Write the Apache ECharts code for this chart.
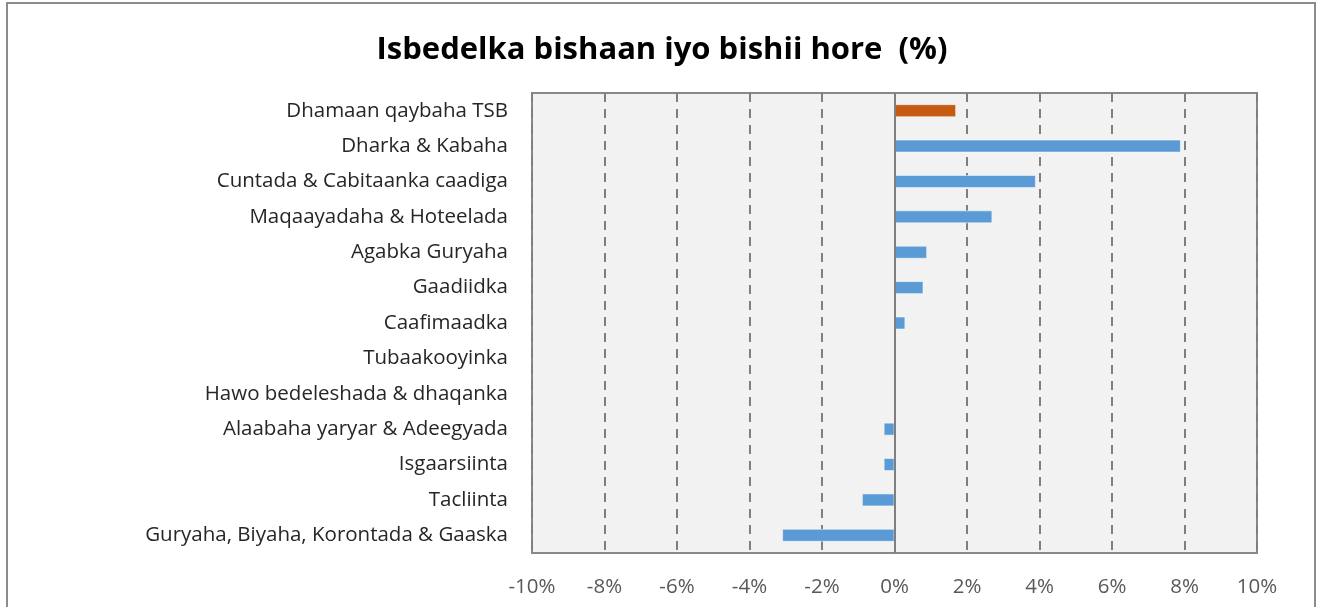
<!DOCTYPE html>
<html>
<head>
<meta charset="utf-8">
<script src="https://cdn.jsdelivr.net/npm/echarts@6/dist/echarts.min.js"></script>
<style>html,body{margin:0;padding:0;background:#fff;}#c{width:1324px;height:607px;}</style>
</head>
<body>
<div id="c"></div>
<script>
const categories = [
  "Dhamaan qaybaha TSB",
  "Dharka & Kabaha",
  "Cuntada & Cabitaanka caadiga",
  "Maqaayadaha & Hoteelada",
  "Agabka Guryaha",
  "Gaadiidka",
  "Caafimaadka",
  "Tubaakooyinka",
  "Hawo bedeleshada & dhaqanka",
  "Alaabaha yaryar & Adeegyada",
  "Isgaarsiinta",
  "Tacliinta",
  "Guryaha, Biyaha, Korontada & Gaaska"
];
const values = [1.7, 7.9, 3.9, 2.7, 0.9, 0.8, 0.3, 0, 0, -0.3, -0.3, -0.9, -3.1];
const barColors = ["#c55a11","#5b9bd5","#5b9bd5","#5b9bd5","#5b9bd5","#5b9bd5","#5b9bd5","#5b9bd5","#5b9bd5","#5b9bd5","#5b9bd5","#5b9bd5","#5b9bd5"];
const titleText = "Isbedelka bishaan iyo bishii hore  (%)";

const chart = echarts.init(document.getElementById('c'), null, {renderer:'canvas'});
chart.setOption({
  animation: false,
  backgroundColor: '#ffffff',
  title: {
    text: titleText,
    left: 'center',
    top: 30,
    textStyle: {fontFamily: 'Open Sans', fontWeight: 'bold', fontSize: 31, color: '#000'}
  },
  graphic: [{
    type: 'rect',
    shape: {x: 7, y: 3, width: 1308, height: 640},
    style: {fill: 'none', stroke: '#8c8c8c', lineWidth: 2},
    silent: true
  }],
  grid: {
    left: 532, right: 67, top: 93, bottom: 54,
    show: true, backgroundColor: '#f2f2f2', borderColor: '#888888', borderWidth: 2
  },
  xAxis: {
    type: 'value', min: -10, max: 10, interval: 2,
    axisLine: {show: false}, axisTick: {show: false},
    axisLabel: {formatter: '{value}%', color: '#595959', fontFamily: 'Open Sans', fontSize: 20.5, margin: 24},
    splitLine: {show: true, lineStyle: {color: '#7f7f7f', width: 2, type: [9, 7]}}
  },
  yAxis: {
    type: 'category', data: categories, inverse: true,
    axisLine: {show: false, onZero: false}, axisTick: {show: false},
    axisLabel: {color: '#262626', fontFamily: 'Open Sans', fontSize: 20.5, margin: 24},
    splitLine: {show: false}
  },
  series: [{
    type: 'bar',
    data: values.map((v, i) => ({value: v, itemStyle: {color: barColors[i]}})),
    barWidth: 13,
    itemStyle: {borderColor: 'rgba(255,255,255,0.5)', borderWidth: 1},
    markLine: {
      silent: true, symbol: 'none', label: {show: false},
      lineStyle: {color: '#7f7f7f', width: 2, type: 'solid'},
      data: [{xAxis: 0}]
    }
  }]
});
</script>
</body>
</html>
